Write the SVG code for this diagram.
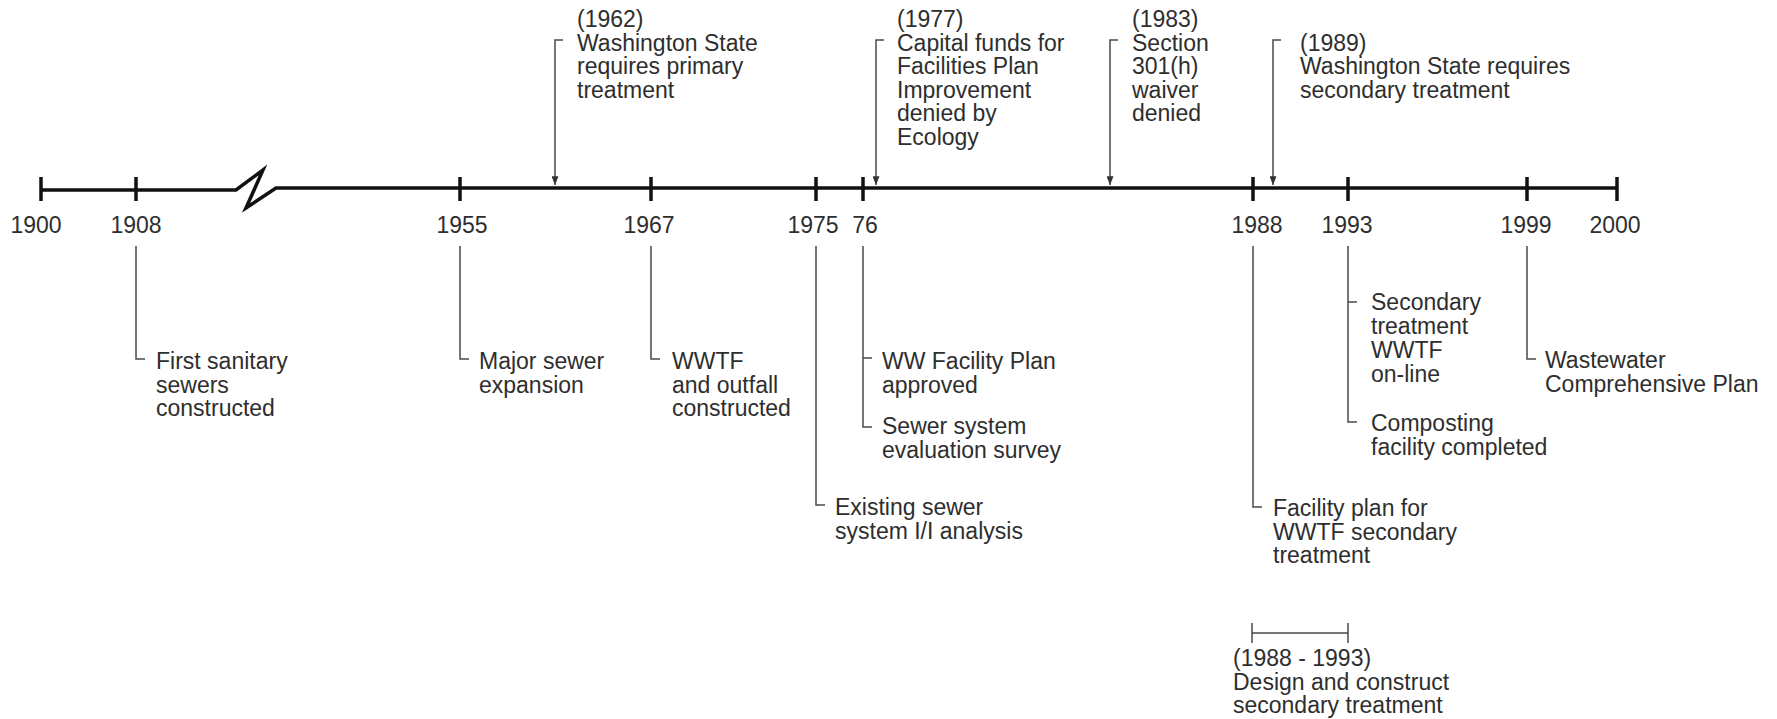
<svg xmlns="http://www.w3.org/2000/svg" width="1777" height="719" viewBox="0 0 1777 719">
<style>
text{font-family:"Liberation Sans",Arial,sans-serif;font-size:23px;fill:#2e2e2e}
.yr{text-anchor:middle}
.axis{fill:none;stroke:#111;stroke-width:3.5;stroke-linejoin:miter}
.tick{stroke:#111;stroke-width:3.5}
.con{fill:none;stroke:#4a4a4a;stroke-width:1.5}
</style>
<defs>
<marker id="arr" viewBox="0 0 10 8" refX="10" refY="4" markerWidth="10" markerHeight="7" markerUnits="userSpaceOnUse" orient="auto">
<path d="M0,0 L10,4 L0,8 z" fill="#333"/>
</marker>
</defs>
<rect width="1777" height="719" fill="#fff"/>
<g id="timeline">
<path class="axis" d="M41,190 H236 L263,170 L246,208 L276,188 H1617"/>
<g class="tick">
<line x1="41" y1="177" x2="41" y2="201"/>
<line x1="136" y1="177" x2="136" y2="201"/>
<line x1="460" y1="177" x2="460" y2="201"/>
<line x1="651" y1="177" x2="651" y2="201"/>
<line x1="816" y1="177" x2="816" y2="201"/>
<line x1="863" y1="177" x2="863" y2="201"/>
<line x1="1253" y1="177" x2="1253" y2="201"/>
<line x1="1348" y1="177" x2="1348" y2="201"/>
<line x1="1527" y1="177" x2="1527" y2="201"/>
<line x1="1617" y1="177" x2="1617" y2="201"/>
</g>
<g class="yr">
<text x="36" y="233">1900</text>
<text x="136" y="233">1908</text>
<text x="462" y="233">1955</text>
<text x="649" y="233">1967</text>
<text x="813" y="233">1975</text>
<text x="865" y="233">76</text>
<text x="1257" y="233">1988</text>
<text x="1347" y="233">1993</text>
<text x="1526" y="233">1999</text>
<text x="1615" y="233">2000</text>
</g>
</g>
<g id="connectors">
<path class="con" d="M563,40 H555 V185" marker-end="url(#arr)"/>
<path class="con" d="M884,40 H876 V185" marker-end="url(#arr)"/>
<path class="con" d="M1118,40 H1110 V185" marker-end="url(#arr)"/>
<path class="con" d="M1281,40 H1273 V185" marker-end="url(#arr)"/>
<path class="con" d="M136,246 V359 H145"/>
<path class="con" d="M460,246 V359 H469"/>
<path class="con" d="M651,246 V359 H660"/>
<path class="con" d="M816,246 V505 H825"/>
<path class="con" d="M863,246 V427 H872 M863,358 H872"/>
<path class="con" d="M1253,246 V507 H1262"/>
<path class="con" d="M1348,246 V422 H1357 M1348,302 H1357"/>
<path class="con" d="M1527,246 V359 H1536"/>
<path class="con" d="M1252,623 V643 M1252,633 H1348 M1348,623 V643"/>
</g>
<g id="e1962"><text x="577" y="27">(1962)<tspan x="577" dy="23.5">Washington State</tspan><tspan x="577" dy="23.5">requires primary</tspan><tspan x="577" dy="23.5">treatment</tspan></text></g>
<g id="e1977"><text x="897" y="27">(1977)<tspan x="897" dy="23.5">Capital funds for</tspan><tspan x="897" dy="23.5">Facilities Plan</tspan><tspan x="897" dy="23.5">Improvement</tspan><tspan x="897" dy="23.5">denied by</tspan><tspan x="897" dy="23.5">Ecology</tspan></text></g>
<g id="e1983"><text x="1132" y="27">(1983)<tspan x="1132" dy="23.5">Section</tspan><tspan x="1132" dy="23.5">301(h)</tspan><tspan x="1132" dy="23.5">waiver</tspan><tspan x="1132" dy="23.5">denied</tspan></text></g>
<g id="e1989"><text x="1300" y="50.5">(1989)<tspan x="1300" dy="23.5">Washington State requires</tspan><tspan x="1300" dy="23.5">secondary treatment</tspan></text></g>
<g id="e1908"><text x="156" y="369">First sanitary<tspan x="156" dy="23.5">sewers</tspan><tspan x="156" dy="23.5">constructed</tspan></text></g>
<g id="e1955"><text x="479" y="369">Major sewer<tspan x="479" dy="23.5">expansion</tspan></text></g>
<g id="e1967"><text x="672" y="369">WWTF<tspan x="672" dy="23.5">and outfall</tspan><tspan x="672" dy="23.5">constructed</tspan></text></g>
<g id="e1975"><text x="835" y="515">Existing sewer<tspan x="835" dy="23.5">system I/I analysis</tspan></text></g>
<g id="e1976a"><text x="882" y="369">WW Facility Plan<tspan x="882" dy="23.5">approved</tspan></text></g>
<g id="e1976b"><text x="882" y="434">Sewer system<tspan x="882" dy="23.5">evaluation survey</tspan></text></g>
<g id="e1988"><text x="1273" y="516">Facility plan for<tspan x="1273" dy="23.5">WWTF secondary</tspan><tspan x="1273" dy="23.5">treatment</tspan></text></g>
<g id="e1993a"><text x="1371" y="310">Secondary<tspan x="1371" dy="24">treatment</tspan><tspan x="1371" dy="24">WWTF</tspan><tspan x="1371" dy="24">on-line</tspan></text></g>
<g id="e1993b"><text x="1371" y="431">Composting<tspan x="1371" dy="23.5">facility completed</tspan></text></g>
<g id="e1999"><text x="1545" y="368">Wastewater<tspan x="1545" dy="23.5">Comprehensive Plan</tspan></text></g>
<g id="e1988_1993"><text x="1233" y="666">(1988 - 1993)<tspan x="1233" dy="23.5">Design and construct</tspan><tspan x="1233" dy="23.5">secondary treatment</tspan></text></g>
</svg>
